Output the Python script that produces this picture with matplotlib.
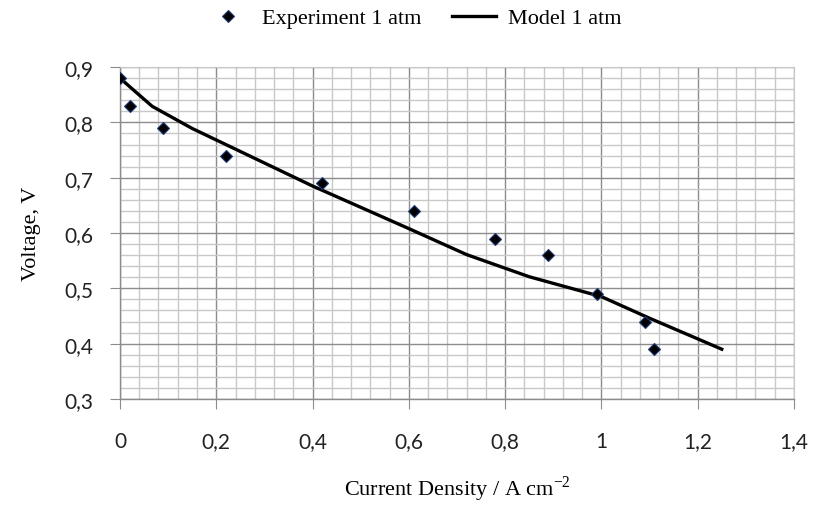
import numpy as np
import matplotlib
matplotlib.use("Agg")
import matplotlib.pyplot as plt
from matplotlib.ticker import MultipleLocator, FuncFormatter

exp_current = [0.0, 0.02, 0.09, 0.22, 0.42, 0.61, 0.78, 0.89, 0.99, 1.09, 1.11]
exp_voltage = [0.88, 0.83, 0.79, 0.74, 0.69, 0.64, 0.59, 0.56, 0.49, 0.44, 0.39]

# model curve (vertices of the polyline)
model_current = [0.0, 0.03, 0.067, 0.15, 0.40, 0.60, 0.72, 0.85, 1.0, 1.10, 1.25]
model_voltage = [0.88, 0.857, 0.829, 0.789, 0.685, 0.608, 0.561, 0.521, 0.485, 0.446, 0.39]

serif = "Liberation Serif"
sans = "Lato"

plt.rcParams["mathtext.fontset"] = "custom"
plt.rcParams["mathtext.rm"] = serif

fig = plt.figure(figsize=(8.14, 5.06), dpi=100)
ax = fig.add_axes([0.1474, 0.2095, 0.828, 0.656])

ax.set_xlim(0, 1.4)
ax.set_ylim(0.3, 0.9)
ax.xaxis.set_major_locator(MultipleLocator(0.2))
ax.xaxis.set_minor_locator(MultipleLocator(0.04))
ax.yaxis.set_major_locator(MultipleLocator(0.1))
ax.yaxis.set_minor_locator(MultipleLocator(0.02))

comma = FuncFormatter(lambda v, p: ("%g" % round(v, 2)).replace(".", ","))
ax.xaxis.set_major_formatter(comma)
ax.yaxis.set_major_formatter(comma)

ax.grid(which="minor", color="#c8c8c8", linewidth=1.0)
ax.grid(which="major", color="#8c8c8c", linewidth=1.0)
ax.set_axisbelow(True)

for side in ["top", "right"]:
    ax.spines[side].set_color("#c8c8c8")
for side in ["left", "bottom"]:
    ax.spines[side].set_color("#8c8c8c")
    ax.spines[side].set_linewidth(1.0)

ax.tick_params(which="major", length=7, color="#8c8c8c", labelsize=15)
ax.tick_params(which="minor", length=0)
ax.tick_params(axis="x", pad=16)
ax.tick_params(axis="y", pad=12)
for lab in ax.get_xticklabels() + ax.get_yticklabels():
    lab.set_fontfamily(sans)
    lab.set_color("#222222")

ax.plot(model_current, model_voltage, color="black", linewidth=2.4,
        label="Model 1 atm", zorder=3)
ax.plot(exp_current, exp_voltage, linestyle="none", marker="D", markersize=6,
        markerfacecolor="black", markeredgecolor="#1f3a78", markeredgewidth=0.8,
        label="Experiment 1 atm", zorder=4)

handles, labels = ax.get_legend_handles_labels()
fig.legend(handles[::-1], labels[::-1], loc="upper center", bbox_to_anchor=(0.508, 1.022),
           ncol=2, frameon=False, prop={"family": serif, "size": 16},
           handlelength=2.0, columnspacing=1.4, handletextpad=0.5)

ax.set_xlabel(r"Current Density / A cm$^{\mathregular{-2}}$", fontfamily=serif,
              fontsize=16, labelpad=16)
ax.set_ylabel("Voltage, V", fontfamily=serif, fontsize=16, labelpad=17)

fig.savefig("out.png", dpi=100)
